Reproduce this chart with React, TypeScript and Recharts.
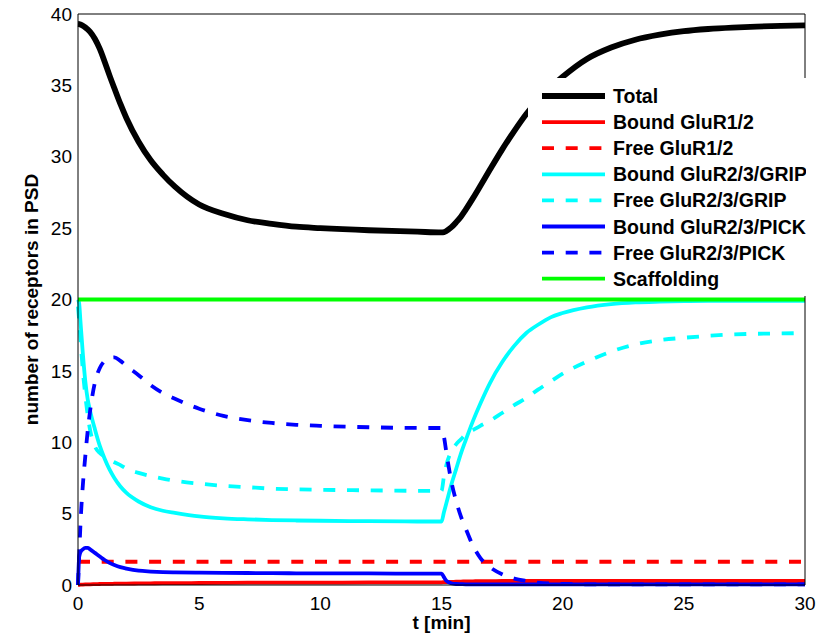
import React from 'react';
import { LineChart, Line, XAxis, YAxis, Legend } from 'recharts';

const FONT = '"Liberation Sans", Arial, Helvetica, sans-serif';

// time samples [min]
const time = [
  0, 0.05, 0.1, 0.2, 0.3, 0.4, 0.5, 0.7, 0.9, 1.1,
  1.3, 1.5, 1.75, 2, 2.5, 3, 3.5, 4, 5, 6,
  7, 8, 9, 10, 12, 14, 15, 15.1, 15.2, 15.4,
  15.6, 15.8, 16, 16.3, 16.6, 17, 17.5, 18, 18.5, 19,
  19.5, 20, 21, 22, 23, 24, 25, 26, 27, 28,
  29, 30,
];

const total = [
  39.3, 39.29, 39.26, 39.18, 39.06, 38.92, 38.75, 38.25, 37.55, 36.65,
  35.7, 34.8, 33.7, 32.7, 31.05, 29.75, 28.75, 27.9, 26.65, 26.0,
  25.55, 25.3, 25.1, 25.0, 24.85, 24.75, 24.7, 24.72, 24.8, 25.05,
  25.4, 25.8, 26.3, 27.1, 27.95, 29.1, 30.5, 31.8, 33.0, 34.0,
  34.85, 35.6, 36.85, 37.65, 38.2, 38.55, 38.8, 38.95, 39.05, 39.12,
  39.17, 39.2,
];

const boundR12 = [
  0, 0.01, 0.02, 0.03, 0.04, 0.05, 0.05, 0.06, 0.07, 0.08,
  0.08, 0.09, 0.1, 0.1, 0.11, 0.12, 0.13, 0.13, 0.14, 0.15,
  0.16, 0.16, 0.17, 0.17, 0.18, 0.19, 0.19, 0.2, 0.21, 0.22,
  0.23, 0.24, 0.25, 0.26, 0.27, 0.27, 0.28, 0.28, 0.28, 0.28,
  0.28, 0.28, 0.28, 0.28, 0.28, 0.28, 0.28, 0.28, 0.28, 0.28,
  0.28, 0.28,
];

const freeR12 = time.map(() => 1.63);

const boundGrip = [
  20, 19.7, 18.5, 16.2, 14.3, 13.0, 12.2, 10.9, 9.75, 8.85,
  8.1, 7.5, 6.9, 6.45, 5.85, 5.45, 5.2, 5.05, 4.8, 4.67,
  4.6, 4.55, 4.52, 4.5, 4.47, 4.45, 4.45, 5.1, 5.72, 7.0,
  8.1, 9.2, 10.15, 11.5, 12.7, 14.15, 15.6, 16.75, 17.65, 18.25,
  18.75, 19.05, 19.45, 19.68, 19.8, 19.85, 19.88, 19.9, 19.9, 19.9,
  19.9, 19.9,
];

const freeGrip = [
  19.5, 18.5, 17.3, 15.0, 13.3, 11.9, 10.85, 9.7, 9.25, 9.0,
  8.78, 8.6, 8.4, 8.15, 7.85, 7.63, 7.45, 7.3, 7.1, 6.95,
  6.85, 6.75, 6.7, 6.67, 6.63, 6.6, 6.6, 7.6, 8.4, 9.35,
  9.85, 10.2, 10.55, 10.85, 11.15, 11.5, 12.05, 12.6, 13.1, 13.7,
  14.25, 14.8, 15.65, 16.35, 16.85, 17.15, 17.32, 17.45, 17.55, 17.6,
  17.62, 17.65,
];

const boundPick = [
  0, 2.0, 2.3, 2.5, 2.6, 2.6, 2.5, 2.25, 2.0, 1.75,
  1.55, 1.4, 1.25, 1.15, 1.0, 0.94, 0.9, 0.88, 0.86, 0.85,
  0.84, 0.83, 0.82, 0.82, 0.81, 0.8, 0.8, 0.55, 0.3, 0.12,
  0.07, 0.06, 0.05, 0.05, 0.05, 0.05, 0.05, 0.05, 0.05, 0.05,
  0.05, 0.05, 0.05, 0.05, 0.05, 0.05, 0.05, 0.05, 0.05, 0.05,
  0.05, 0.05,
];

const freePick = [
  0, 2.1, 4.2, 7.0, 9.0, 10.8, 12.2, 14.2, 15.2, 15.7,
  15.9, 15.95, 15.7, 15.35, 14.7, 14.0, 13.45, 13.05, 12.35, 11.85,
  11.55, 11.35, 11.22, 11.15, 11.05, 11.0, 11.0, 10.4, 9.3, 7.3,
  5.9, 4.8, 3.95, 2.75, 1.9, 1.25, 0.75, 0.45, 0.28, 0.16,
  0.1, 0.07, 0.05, 0.05, 0.05, 0.05, 0.05, 0.05, 0.05, 0.05,
  0.05, 0.05,
];

const scaffolding = time.map(() => 20);

const xTicks = [0, 5, 10, 15, 20, 25, 30];
const yTicks = [0, 5, 10, 15, 20, 25, 30, 35, 40];

const DASH = '12 11.7';

const series = [
  { key: 'total', name: 'Total', color: '#000000', width: 5.8, dash: undefined, values: total },
  { key: 'boundR12', name: 'Bound GluR1/2', color: '#ff0000', width: 3.8, dash: undefined, values: boundR12 },
  { key: 'freeR12', name: 'Free GluR1/2', color: '#ff0000', width: 3.8, dash: DASH, values: freeR12 },
  { key: 'boundGrip', name: 'Bound GluR2/3/GRIP', color: '#00ffff', width: 3.8, dash: undefined, values: boundGrip },
  { key: 'freeGrip', name: 'Free GluR2/3/GRIP', color: '#00ffff', width: 3.8, dash: DASH, values: freeGrip },
  { key: 'boundPick', name: 'Bound GluR2/3/PICK', color: '#0000ff', width: 3.8, dash: undefined, values: boundPick },
  { key: 'freePick', name: 'Free GluR2/3/PICK', color: '#0000ff', width: 3.8, dash: DASH, values: freePick },
  { key: 'scaffolding', name: 'Scaffolding', color: '#00ff00', width: 3.8, dash: undefined, values: scaffolding },
];

const data = time.map((t, i) => {
  const row: Record<string, number> = { t };
  series.forEach((s) => {
    row[s.key] = s.values[i];
  });
  return row;
});

const renderLegend = () => (
  <svg width={278} height={218} style={{ display: 'block' }}>
    {series.map((s, i) => {
      const y = 18 + i * 26.1;
      return (
        <g key={s.key}>
          <line x1={14} x2={77} y1={y} y2={y} stroke={s.color} strokeWidth={s.width} strokeDasharray={s.dash} />
          <text x={85} y={y + 7} fontFamily={FONT} fontWeight="bold" fontSize={19.5} fill="#000">
            {s.name}
          </text>
        </g>
      );
    })}
  </svg>
);

const YLabel = (props: any) => {
  const vb = props.viewBox || { y: 14, height: 571 };
  const cy = vb.y + vb.height / 2;
  return (
    <text x={38} y={cy} transform={`rotate(-90, 38, ${cy})`} textAnchor="middle" fontFamily={FONT} fontWeight="bold" fontSize={19} fill="#000">
      number of receptors in PSD
    </text>
  );
};

const XLabel = (props: any) => {
  const vb = props.viewBox || { x: 78, width: 727 };
  const cx = vb.x + vb.width / 2;
  return (
    <text x={cx} y={629} textAnchor="middle" fontFamily={FONT} fontWeight="bold" fontSize={19} fill="#000">
      t [min]
    </text>
  );
};

const tickStyle = { fill: '#000', fontSize: 19, fontFamily: FONT };

export default function App() {
  return (
    <div style={{ position: 'absolute', left: 0, top: 0, width: 829, height: 638, background: '#fff' }}>
      <LineChart width={829} height={638} data={data} margin={{ top: 14, right: 24, bottom: 0, left: 0 }}>
        <XAxis
          dataKey="t"
          type="number"
          domain={[0, 30]}
          ticks={xTicks}
          height={53}
          tick={tickStyle}
          tickLine={false}
          tickSize={0}
          tickMargin={11.5}
          axisLine={{ stroke: '#000', strokeWidth: 1 }}
          label={<XLabel />}
        />
        <XAxis xAxisId="bottomTicks" dataKey="t" type="number" domain={[0, 30]} ticks={xTicks} mirror tick={false} axisLine={false} tickSize={7} tickLine={{ stroke: '#000' }} />
        <XAxis xAxisId="top" orientation="top" dataKey="t" type="number" domain={[0, 30]} ticks={xTicks} mirror tick={false} tickSize={7} tickLine={{ stroke: '#000' }} axisLine={{ stroke: '#000', strokeWidth: 1 }} />
        <YAxis
          type="number"
          domain={[0, 40]}
          ticks={yTicks}
          width={78}
          tick={tickStyle}
          tickLine={false}
          tickSize={0}
          tickMargin={6}
          axisLine={{ stroke: '#000', strokeWidth: 1 }}
          label={<YLabel />}
        />
        <YAxis yAxisId="leftTicks" type="number" domain={[0, 40]} ticks={yTicks} mirror tick={false} axisLine={false} tickSize={7} tickLine={{ stroke: '#000' }} />
        <YAxis yAxisId="right" orientation="right" type="number" domain={[0, 40]} ticks={yTicks} mirror tick={false} tickSize={7} tickLine={{ stroke: '#000' }} axisLine={{ stroke: '#000', strokeWidth: 1 }} />
        {series.map((s) => (
          <Line
            key={s.key}
            dataKey={s.key}
            name={s.name}
            type="monotone"
            stroke={s.color}
            strokeWidth={s.width}
            strokeDasharray={s.dash}
            dot={false}
            activeDot={false}
            isAnimationActive={false}
          />
        ))}
        <Legend
          layout="vertical"
          align="center"
          verticalAlign="middle"
          content={renderLegend}
          wrapperStyle={{ left: 528, top: 78, width: 278, height: 218, background: '#fff', margin: 0, padding: 0 }}
        />
      </LineChart>
    </div>
  );
}
